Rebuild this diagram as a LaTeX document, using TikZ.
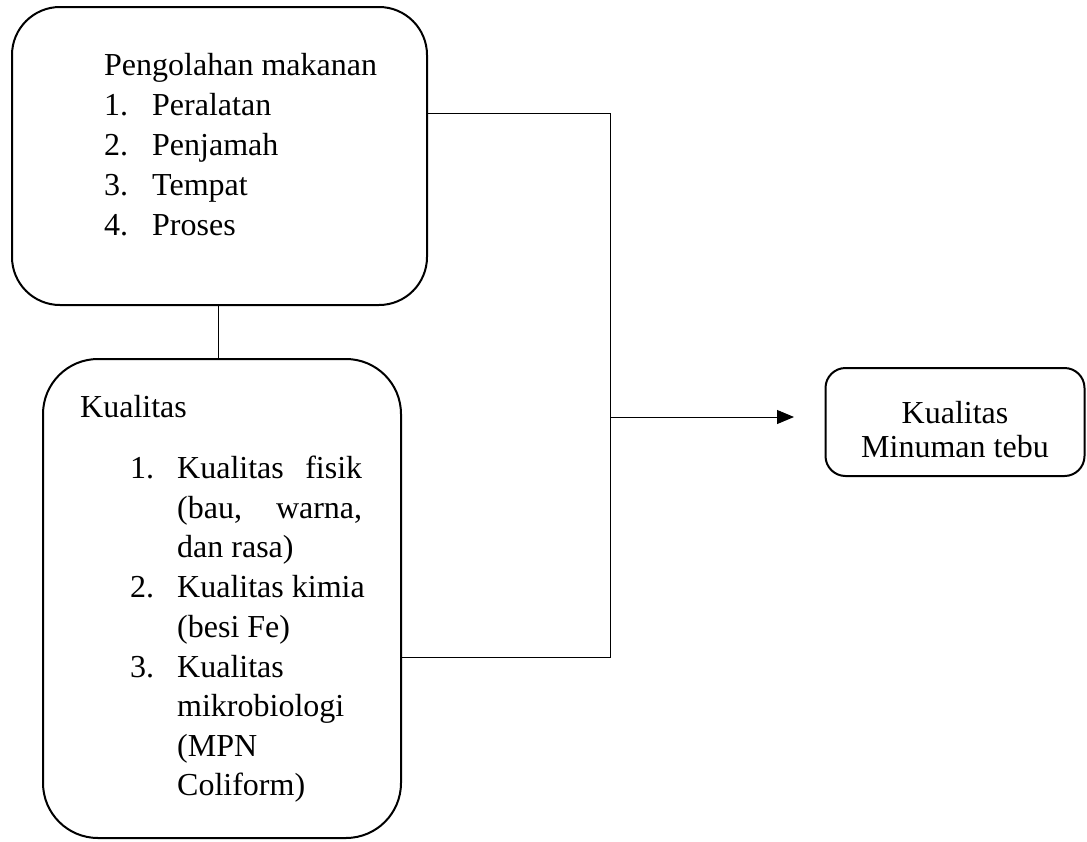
\documentclass[tikz,border=0pt]{standalone}
\usepackage{fontspec}
\setmainfont{Liberation Serif}
\usetikzlibrary{arrows.meta}
\begin{document}
\begin{tikzpicture}[x=1pt,y=-1pt,
  box/.style={draw,line width=2pt,rounded corners=#1,inner sep=0pt},
  conn/.style={draw,line width=1pt},
  txt/.style={anchor=base west,inner sep=0pt,font=\fontsize{32}{40}\selectfont},
  ctxt/.style={anchor=base,inner sep=0pt,font=\fontsize{32}{40}\selectfont}]
\useasboundingbox (0,0) rectangle (1087,841);
% boxes
\node[box=48pt,minimum width=415pt,minimum height=298pt] (b1) at (219.5,156) {};
\node[box=55pt,minimum width=358pt,minimum height=479pt] (b2) at (222,598.5) {};
\node[box=20pt,minimum width=259pt,minimum height=108pt] (b3) at (955,422) {};
% box 1 text
\node[txt] (t1) at (104,75) {Pengolahan makanan};
\node[txt] (n11) at (104,115) {1.};
\node[txt] (i11) at (152,115) {Peralatan};
\node[txt] (n12) at (104,155) {2.};
\node[txt] (i12) at (152,155) {Penjamah};
\node[txt] (n13) at (104,195) {3.};
\node[txt] (i13) at (152,195) {Tempat};
\node[txt] (n14) at (104,235) {4.};
\node[txt] (i14) at (152,235) {Proses};
% box 2 text
\node[txt] (t2) at (80,417) {Kualitas};
\node[txt] (n21) at (130,478) {1.};
\node[txt] (l21) at (177,478) {\makebox[185pt][l]{Kualitas\hfill fisik}};
\node[txt] (l22) at (177,518) {\makebox[185pt][l]{(bau,\hfill warna,}};
\node[txt] (l23) at (177,557) {dan rasa)};
\node[txt] (n22) at (130,597) {2.};
\node[txt] (l24) at (177,597) {Kualitas kimia};
\node[txt] (l25) at (177,637) {(besi Fe)};
\node[txt] (n23) at (130,677) {3.};
\node[txt] (l26) at (177,677) {Kualitas};
\node[txt] (l27) at (177,716) {mikrobiologi};
\node[txt] (l28) at (177,756) {(MPN};
\node[txt] (l29) at (177,795) {Coliform)};
% box 3 text
\node[ctxt] (t3a) at (955,423) {Kualitas};
\node[ctxt] (t3b) at (955,457) {Minuman tebu};
% connectors
\coordinate (j1) at (610,113);
\coordinate (j2) at (610,657);
\coordinate (ja) at (610,417);
\coordinate (tip) at (794,417);
\coordinate (cx) at (218,0);
\draw[conn] (b1.east |- j1) -- (j1) -- (j2) -- (b2.east |- j2);
\draw[conn,-{Triangle[length=17pt,width=14pt]}] (ja) -- (tip);
\draw[conn] (b1.south -| cx) -- (b2.north -| cx);
\end{tikzpicture}
\end{document}
